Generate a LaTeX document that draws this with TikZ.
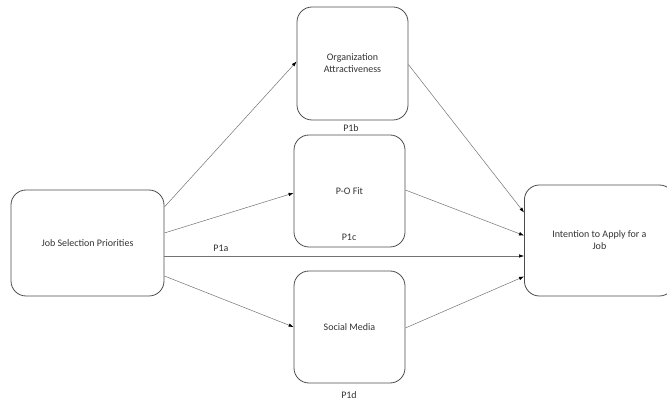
\documentclass[tikz,border=0pt]{standalone}
\usepackage{fontspec}
\setmainfont{Carlito}
\usetikzlibrary{arrows.meta}
\begin{document}
\begin{tikzpicture}[x=1pt,y=-1pt,
  box/.style={draw=black!70,line width=0.8pt,rounded corners=15pt,align=center,inner sep=0pt,font=\fontsize{10}{12}\selectfont,text=black!80},
  conn/.style={draw=black!55,line width=0.5pt,-{Latex[length=5pt,width=3.5pt,black]}},
  lbl/.style={font=\fontsize{10}{12}\selectfont,text=black!80,inner sep=0pt}]
\useasboundingbox (0,0) rectangle (667,403);
\node[box,minimum width=153pt,minimum height=106pt] (jsp) at (87.5,243) {Job Selection Priorities};
\node[box,minimum width=111pt,minimum height=113pt] (oa) at (352.5,63.5) {Organization\\Attractiveness};
\node[box,minimum width=111pt,minimum height=112pt] (po) at (349.5,191) {P-O Fit};
\node[box,minimum width=111pt,minimum height=112pt] (sm) at (349.5,327) {Social Media};
\node[box,minimum width=150pt,minimum height=111pt,anchor=west] (ia) at (524,240.5) {Intention to Apply for a\\Job};
\node[lbl] (p1b) at (351,128) {P1b};
\node[lbl] (p1c) at (349,237) {P1c};
\node[lbl] (p1d) at (349,395) {P1d};
\node[lbl] (p1a) at (221,248) {P1a};
\draw[conn] ([yshift=36pt]jsp.east) -- ([yshift=2pt]oa.west);
\draw[conn] ([yshift=10pt]jsp.east) -- ([yshift=-2pt]po.west);
\draw[conn] ([yshift=-13pt]jsp.east) -- ([yshift=-15.5pt]ia.west);
\draw[conn] ([yshift=-33pt]jsp.east) -- (sm.west);
\draw[conn] ([yshift=-1pt]oa.east) -- ([yshift=28pt]ia.west);
\draw[conn] ([yshift=1pt]po.east) -- ([yshift=5pt]ia.west);
\draw[conn] ([yshift=-1pt]sm.east) -- ([yshift=-36pt]ia.west);
\end{tikzpicture}
\end{document}
